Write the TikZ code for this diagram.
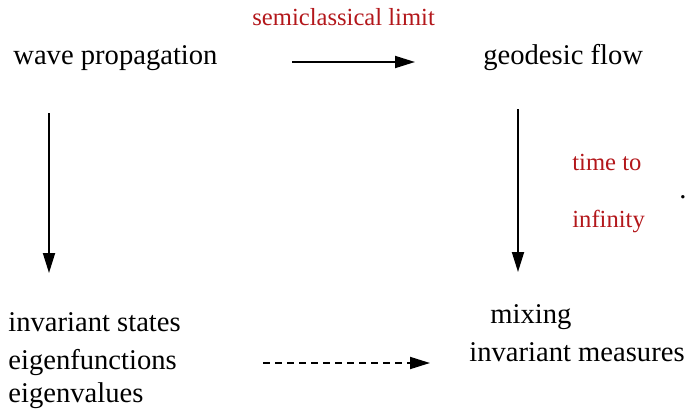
\documentclass[tikz,border=0pt]{standalone}
\usepackage{fontspec}
\setmainfont{Liberation Serif}
\usetikzlibrary{arrows.meta}
\definecolor{limitred}{HTML}{B3171B}

\begin{document}
\begin{tikzpicture}[x=0.5pt,y=-0.5pt,
 every node/.style={font=\fontsize{14.3}{17}\selectfont,inner sep=0pt,anchor=base west},
 note/.style={text=limitred,font=\fontsize{12.3}{15}\selectfont},
 arr/.style={line width=0.9pt,-{Triangle[length=10pt,width=6pt]}}]
 \useasboundingbox (0,0) rectangle (687,408);
 % top row
 \node (wave) at (13,64) {wave propagation};
 \node (geo) at (483,64) {geodesic flow};
 \node[note] (semi) at (252,25) {semiclassical limit};
 \coordinate (h0) at (292,62);
 \coordinate (h1) at (415,62);
 \draw[arr] (h0) -- (h1);
 % vertical arrows
 \coordinate (l0) at (49,113);
 \coordinate (l1) at (49,273);
 \draw[arr] (l0) -- (l1);
 \coordinate (r0) at (518,109);
 \coordinate (r1) at (518,272);
 \draw[arr] (r0) -- (r1);
 \node[note] (time) at (572,170) {time to};
 \node[note] (inf) at (572,227) {infinity};
 \node (dot) at (679,198) {.};
 % bottom row
 \node (inv) at (8,331) {invariant states};
 \node (efun) at (8,369) {eigenfunctions};
 \node (eval) at (8,402) {eigenvalues};
 \node (mix) at (490,323) {mixing};
 \node (meas) at (469,361) {invariant measures};
 \coordinate (d0) at (263,363);
 \coordinate (d1) at (430,363);
 \draw[arr,dash pattern=on 3.5pt off 2.5pt] (d0) -- (d1);
\end{tikzpicture}
\end{document}
